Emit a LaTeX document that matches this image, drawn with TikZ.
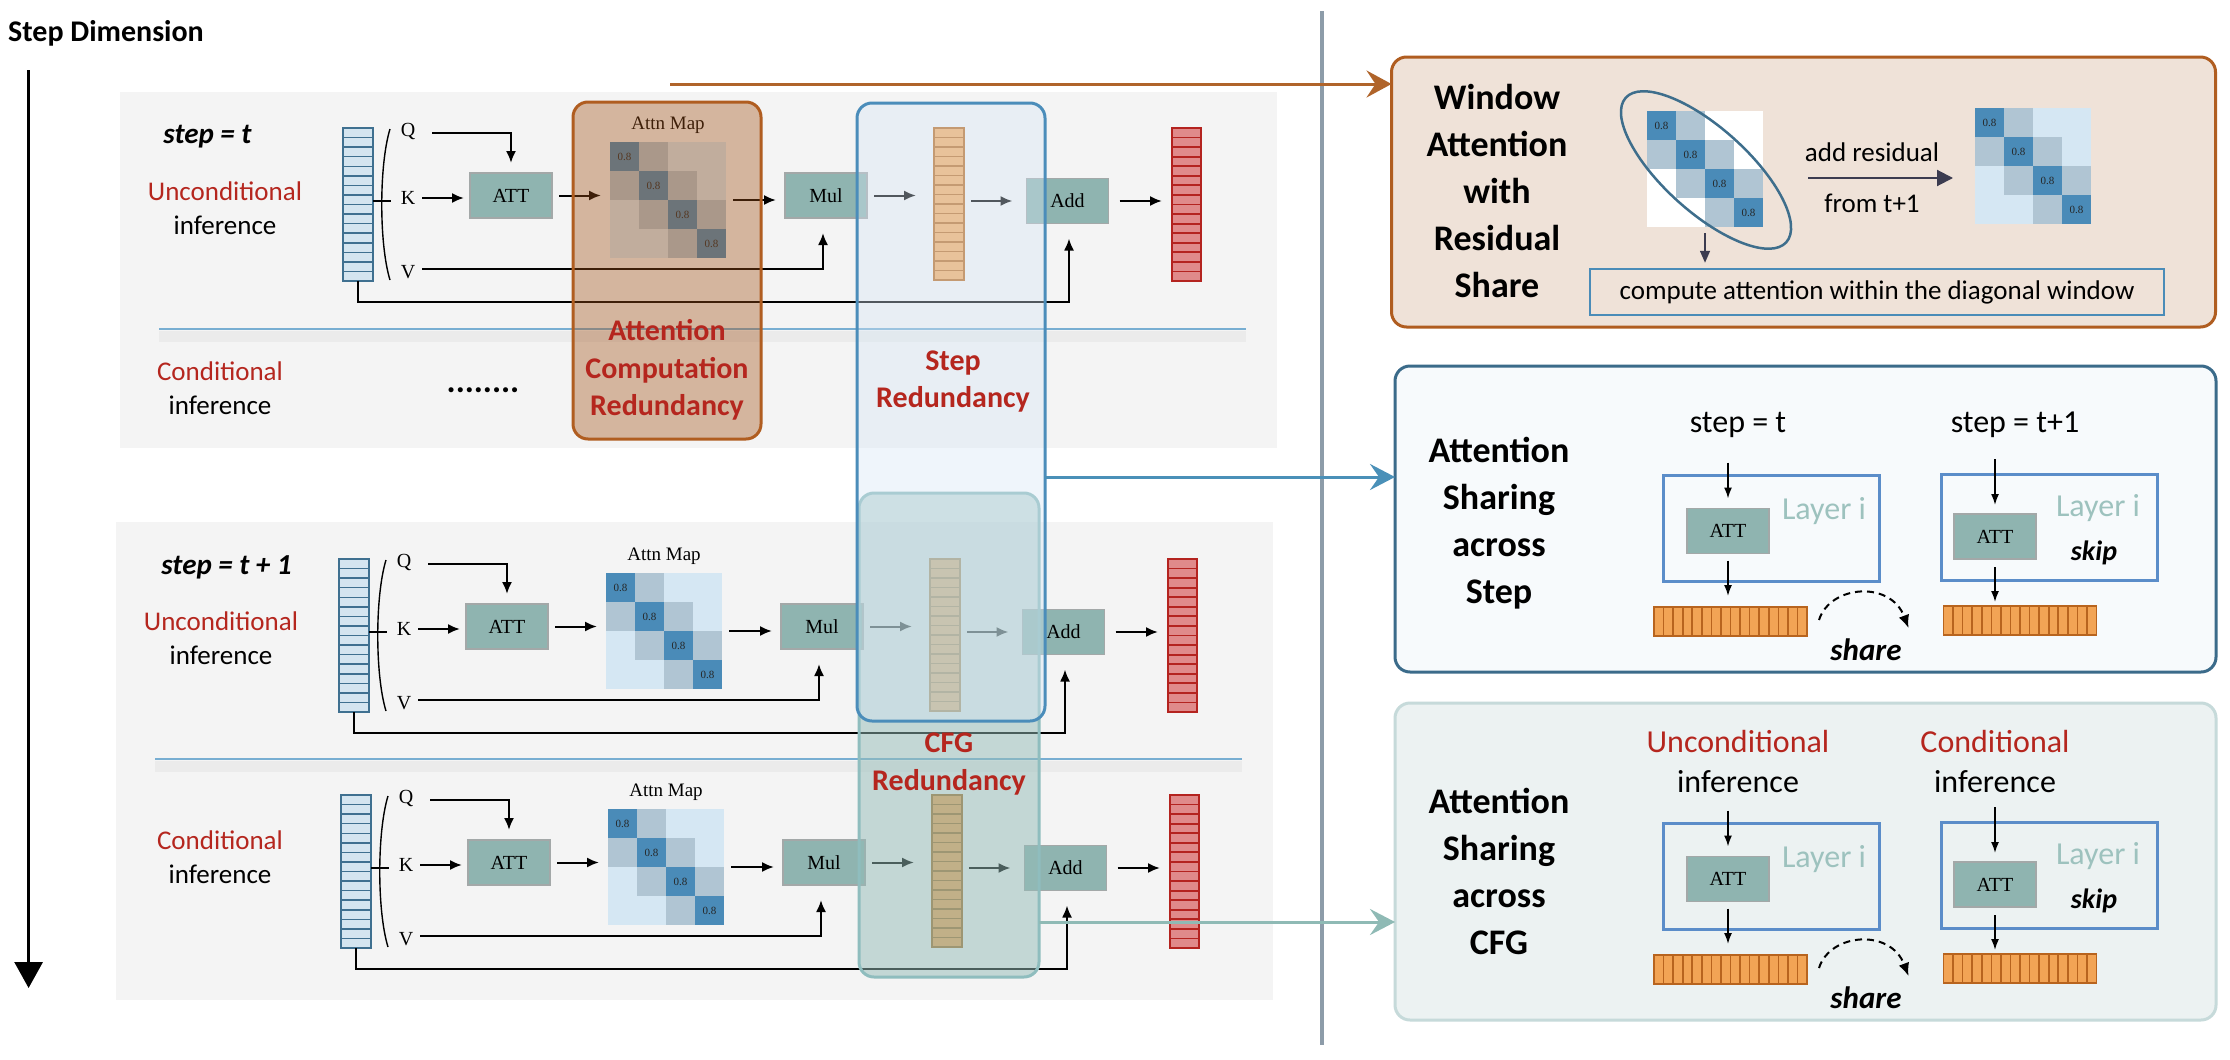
\documentclass[tikz,border=0pt]{standalone}
\usepackage{fontspec}
\setmainfont{Carlito}
\newfontfamily\tms{Liberation Serif}
\usetikzlibrary{arrows.meta,calc}
\definecolor{panelg}{HTML}{F4F4F4}
\definecolor{tokf}{HTML}{D4E5F0}
\definecolor{tokb}{HTML}{3F7090}
\definecolor{opf}{HTML}{8FB4B0}
\definecolor{opb}{HTML}{A3A8A8}
\definecolor{redf}{HTML}{E08A8A}
\definecolor{redb}{HTML}{B4231F}
\definecolor{peachf}{HTML}{E8C29A}
\definecolor{peachb}{HTML}{C49A72}
\definecolor{orgf}{HTML}{EFA458}
\definecolor{orgb}{HTML}{A8702E}
\definecolor{diagc}{HTML}{4A8BB8}
\definecolor{midc}{HTML}{B0C5D3}
\definecolor{farc}{HTML}{D5E7F3}
\definecolor{redt}{HTML}{B5261E}
\definecolor{orbord}{HTML}{B05D20}
\definecolor{orov}{HTML}{A25218}
\definecolor{blbord}{HTML}{4B8DBA}
\definecolor{blov}{HTML}{D5E6F5}
\definecolor{cfgbord}{HTML}{8FBDBE}
\definecolor{cfgov}{HTML}{94BCB8}
\definecolor{winf}{HTML}{EFE2D8}
\definecolor{stepf}{HTML}{F7FAFC}
\definecolor{stepb}{HTML}{3B6B8A}
\definecolor{cfgpf}{HTML}{ECF2F2}
\definecolor{cfgpb}{HTML}{C6DADA}
\definecolor{layb}{HTML}{5B8DC9}
\definecolor{layt}{HTML}{9DC2BE}
\definecolor{barf}{HTML}{F2A455}
\definecolor{barb}{HTML}{B8641E}
\definecolor{sepc}{HTML}{8D9CA9}
\definecolor{divc}{HTML}{78AED2}
\definecolor{ellc}{HTML}{3E6E8C}
\definecolor{cboxb}{HTML}{4A8CB8}
\definecolor{darkarr}{HTML}{3C3C50}
\definecolor{tealarr}{HTML}{8FBAB5}
\definecolor{bluearr}{HTML}{4A90B8}
\definecolor{orarr}{HTML}{B0642A}
\newcommand\fsz[2]{\fontsize{#1}{#2}\selectfont}
\newcommand\hstripes[3]{%
 \pgfmathtruncatemacro\nmone{#3-1}%
 \foreach \i in {1,...,\nmone}{%
  \draw[#2] ($(#1.north west)!\i/#3!(#1.south west)$) -- ($(#1.north east)!\i/#3!(#1.south east)$);}}
\newcommand\vstripes[3]{%
 \pgfmathtruncatemacro\nmone{#3-1}%
 \foreach \i in {1,...,\nmone}{%
  \draw[#2] ($(#1.north west)!\i/#3!(#1.north east)$) -- ($(#1.south west)!\i/#3!(#1.south east)$);}}
\newcommand\attnmat[4]{%
 \foreach \r in {0,...,3}{\foreach \c in {0,...,3}{%
  \pgfmathtruncatemacro\dd{abs(\r-\c)}%
  \ifnum\dd=0 \def\mcol{diagc}\else\ifnum\dd=1 \def\mcol{midc}\else\def\mcol{#4}\fi\fi
  \fill[\mcol] ({#2+\c*29},{#3+\r*29}) rectangle ++(29.3,29.3);
  \ifnum\dd=0 \node[numl] at ({#2+\c*29+14.5},{#3+\r*29+14.5}) {0.8};\fi}}%
 \node[inner sep=0,outer sep=0,minimum size=116pt] (#1) at ({#2+58},{#3+58}) {};}
\newcommand\attrow[4]{%
\begin{scope}[shift={#2}]
 \node[tokcol] (#1tok) at (358,204.5) {};
 \hstripes{#1tok}{tokline}{16}
 \draw[line width=1.4pt] (390,129) .. controls (379,165) and (379,244) .. (390,280);
 \draw[line width=2pt] (#1tok.east |- 0,201) -- (391,201);
 \node[qkv] (#1q) at (408,131) {Q};
 \node[qkv] (#1k) at (408,198) {K};
 \node[qkv] (#1v) at (408,272) {V};
 \node[opbox] (#1att) at (511,195.5) {ATT};
 \attnmat{#1mat}{610}{142}{farc}
 \node[mapl] at (668,125) {Attn Map};
 \node[opbox] (#1mul) at (826,195.5) {Mul};
 \node[colnode, fill=#3, draw=#4] (#1mid) at (949,204) {};
 \hstripes{#1mid}{draw=#4, line width=1.5pt}{16}
 \node[opbox] (#1add) at (1067.5,201) {Add};
 \node[redcol] (#1out) at (1186.5,204.5) {};
 \hstripes{#1out}{redline}{16}
 \draw[arr] ($(#1q.east)+(17,2)$) -| ([yshift=10pt]#1att.north);
 \draw[arr, shorten >=6pt] ($(#1k.east)+(7,0)$) -- (#1k.east -| #1att.west);
 \draw[arr] ($(#1v.east)+(7,-3)$) -| ($(#1mul.south)+(-3,15)$);
 \draw[arr] (#1tok.south) -- ++(0,21) -| ($(#1add.south)+(1.5,15)$);
 \draw[arr, shorten <=7pt, shorten >=9pt] (#1att.east) -- (#1att.east -| #1mat.west);
 \draw[arr, shorten <=7pt, shorten >=9pt] (#1mat.east) -- (#1mat.east -| #1mul.west);
 \draw[arr, shorten <=7pt, shorten >=18pt] (#1mul.east) -- (#1mul.east -| #1mid.west);
 \draw[arr, shorten <=7pt, shorten >=14pt] (#1mid.east |- #1add.west) -- (#1add.west);
 \draw[arr, shorten <=11pt, shorten >=10pt] (#1add.east) -- (#1add.east -| #1out.west);
\end{scope}}
\newcommand\sharepanel[2]{%
\begin{scope}[shift={#2}]
 \node[layerbox] (#1la) at (1771,528) {};
 \node[opbox] (#1atta) at (1728,531) {ATT};
 \node[layl] at (1824,511) {Layer i};
 \node[bar] (#1bara) at (1730.5,621.5) {};
 \vstripes{#1bara}{barline}{16}
 \node[layerbox] (#1lb) at (2049.5,527.5) {};
 \node[opbox] (#1attb) at (1995,536.5) {ATT};
 \node[layl] at (2098,508) {Layer i};
 \node[skipl] at (2094,553) {skip};
 \node[bar] (#1barb) at (2020,620.5) {};
 \vstripes{#1barb}{barline}{16}
 \draw[sarr] ($(#1atta.north)+(0,-46)$) -- ($(#1atta.north)+(0,-10)$);
 \draw[sarr] ($(#1atta.south)+(0,7)$) -- ($(#1atta.south |- #1bara.north)+(0,-11)$);
 \draw[sarr] ($(#1attb.north)+(0,-55)$) -- ($(#1attb.north)+(0,-9)$);
 \draw[sarr] ($(#1attb.south)+(0,8)$) -- ($(#1attb.south |- #1barb.north)+(0,-4)$);
 \draw[dasharr] ($(#1bara.east)+(12,-1.5)$) .. controls +(11,-35) and +(-18,-48) .. ($(#1barb.west)+(-35,7.5)$);
 \node[sharel] at (1866,650) {share};
\end{scope}}
\begin{document}
\begin{tikzpicture}[x=1pt,y=-1pt,
  arr/.style={line width=2pt, -{Latex[length=12pt,width=10pt]}},
  sarr/.style={line width=1.6pt, -{Latex[length=11pt,width=8pt]}},
  dasharr/.style={line width=2pt, dash pattern=on 7pt off 5pt, -{Latex[length=13pt,width=11pt]}},
  tokcol/.style={draw=tokb, fill=tokf, line width=1.5pt, minimum width=30pt, minimum height=153pt, inner sep=0pt, outer sep=0pt},
  tokline/.style={draw=tokb, line width=1.5pt},
  colnode/.style={line width=1.5pt, minimum width=30pt, minimum height=152pt, inner sep=0pt, outer sep=0pt},
  redcol/.style={draw=redb, fill=redf, line width=1.8pt, minimum width=29pt, minimum height=153pt, inner sep=0pt, outer sep=0pt},
  redline/.style={draw=redb, line width=1.8pt},
  opbox/.style={fill=opf, draw=opb, line width=1.2pt, minimum width=82pt, minimum height=45pt, inner sep=0pt, outer sep=0pt, font=\tms\fsz{20}{24}},
  qkv/.style={inner sep=0pt, font=\tms\fsz{20}{24}},
  mapl/.style={inner sep=0pt, font=\tms\fsz{19}{22}},
  numl/.style={inner sep=0pt, font=\tms\fsz{11}{12}, text=black!85},
  lab/.style={inner sep=0pt, font=\fsz{27}{32}},
  bigred/.style={inner sep=0pt, align=center, text=redt, font=\bfseries\fsz{30}{37.5}},
  title/.style={inner sep=0pt, align=center, font=\bfseries\fsz{36}{47}},
  rlab/.style={inner sep=0pt, font=\fsz{32}{38}},
  layerbox/.style={draw=layb, line width=3pt, minimum width=216pt, minimum height=106pt, inner sep=0pt, outer sep=0pt},
  layl/.style={inner sep=0pt, text=layt, font=\fsz{32}{36}},
  skipl/.style={inner sep=0pt, font=\bfseries\itshape\fsz{28}{32}},
  sharel/.style={inner sep=0pt, font=\bfseries\itshape\fsz{31}{34}},
  bar/.style={fill=barf, draw=barb, line width=1.6pt, minimum width=153pt, minimum height=29pt, inner sep=0pt, outer sep=0pt},
  barline/.style={draw=barb, line width=1.6pt},
  rpanel/.style={line width=3pt, rounded corners=15pt, inner sep=0pt, outer sep=0pt},
  hilite/.style={line width=3pt, rounded corners=15pt, inner sep=0pt, outer sep=0pt}
]
\useasboundingbox (0,0) rectangle (2230,1060);
\fill[white] (0,0) rectangle (2230,1060);

% ---------- left side ----------
\node[inner sep=0pt, anchor=west, font=\bfseries\fsz{30}{36}] (sdim) at (8,33) {Step Dimension};
\coordinate (sdtop) at (28.6,70);
\coordinate (sdbot) at (28.6,988);
\draw[line width=3pt, -{Triangle[length=26pt,width=28pt]}] (sdtop) -- (sdbot);

\node[fill=panelg, minimum width=1157pt, minimum height=356pt, inner sep=0pt] (p1) at (698.5,270) {};
\node[fill=panelg, minimum width=1157pt, minimum height=478pt, inner sep=0pt] (p2) at (694.5,761) {};
\fill[black, opacity=0.035] (159,331) rectangle (1246,342);
\draw[divc, line width=1.5pt] (159,329) -- (1246,329);
\fill[black, opacity=0.035] (155,761) rectangle (1242,772);
\draw[divc, line width=1.5pt] (155,759) -- (1242,759);

\attrow{a}{(0,0)}{peachf}{peachb}
\attrow{b}{(-4,431)}{orgf}{orgb}
\attrow{c}{(-2,667)}{orgf}{orgb}

\node[inner sep=0pt, font=\bfseries\itshape\fsz{29}{34}] at (207.5,137) {step = t};
\node[lab, text=redt] at (225,191) {Unconditional};
\node[lab] at (225,225) {inference};
\node[lab, text=redt] at (220,371) {Conditional};
\node[lab] at (220,405) {inference};
\node[inner sep=0pt, font=\bfseries\fsz{34}{34}] at (483,390) {........};
\node[inner sep=0pt, font=\bfseries\itshape\fsz{29}{34}] at (226.5,567) {step = t + 1};
\node[lab, text=redt] at (221,621) {Unconditional};
\node[lab] at (221,655) {inference};
\node[lab, text=redt] at (220,840) {Conditional};
\node[lab] at (220,874) {inference};

% highlight regions
\node[hilite, draw=cfgbord, fill=cfgov, fill opacity=0.5, minimum width=180pt, minimum height=484pt] (cfgred) at (949,735) {};
\node[hilite, draw=blbord, fill=blov, fill opacity=0.38, minimum width=188pt, minimum height=618pt] (stepred) at (951,412) {};
\node[hilite, draw=orbord, fill=orov, fill opacity=0.39, minimum width=188pt, minimum height=337pt] (attred) at (667,270.5) {};
\path[fill=peachf, draw=peachb, line width=1.5pt] (amid.north west) rectangle (amid.south east);
\hstripes{amid}{draw=peachb, line width=1.5pt}{16}

\node[bigred] at (667,370) {Attention\\Computation\\Redundancy};
\node[bigred] at (953,381.5) {Step\\Redundancy};
\node[bigred] at (949,764) {CFG\\Redundancy};

% separator
\draw[sepc, line width=4.5pt] (1322,11) -- (1322,1045);

% ---------- right side ----------
\node[rpanel, draw=orbord, fill=winf, minimum width=824pt, minimum height=270pt] (winbox) at (1803.5,192) {};
\node[rpanel, draw=stepb, fill=stepf, minimum width=821pt, minimum height=306pt] (steppanel) at (1805.5,519) {};
\node[rpanel, draw=cfgpb, fill=cfgpf, minimum width=821pt, minimum height=317pt] (cfgpanel) at (1805.5,861.5) {};

\node[title] at (1497,190.5) {Window\\Attention\\with\\Residual\\Share};
\node[title] at (1499,523) {Attention\\Sharing\\across\\Step};
\node[title] at (1499,871) {Attention\\Sharing\\across\\CFG};

% window attention content
\attnmat{wm1}{1647}{111}{white}
\draw[ellc, line width=2.5pt, rotate around={-42:(1706,170)}] (1706,170) ellipse [x radius=108pt, y radius=42pt];
\attnmat{wm2}{1975}{108}{farc}
\node[draw=cboxb, line width=2.5pt, minimum width=574pt, minimum height=46pt, inner sep=0pt, font=\fsz{27}{30}] (cbox) at (1877,292) {compute attention within the diagonal window};
\draw[darkarr, line width=1.6pt, -{Triangle[length=12pt,width=10pt]}, shorten <=6pt, shorten >=5pt] (wm1.south) -- (wm1.south |- cbox.north);
\node[inner sep=0pt, font=\fsz{27}{30}] at (1872,152) {add residual};
\node[inner sep=0pt, font=\fsz{27}{30}] at (1872,203) {from t+1};
\coordinate (ra) at (1808,178);
\draw[darkarr, line width=2pt, -{Triangle[length=16pt,width=16pt]}, shorten >=22pt] (ra) -- (ra -| wm2.west);

% sharing panels
\node[rlab] at (1738,425) {step = t};
\node[rlab] at (2015,425) {step = t+1};
\sharepanel{s}{(0,0)}
\node[rlab, text=redt] at (1738,741) {Unconditional};
\node[rlab] at (1738,782) {inference};
\node[rlab, text=redt] at (1995,741) {Conditional};
\node[rlab] at (1995,782) {inference};
\sharepanel{g}{(0,348)}

% connectors
\coordinate (ostart) at (670,84);
\draw[orarr, line width=3pt, -{Stealth[length=25pt,width=27pt,inset=9pt]}] (ostart) -- (ostart -| winbox.west);
\draw[bluearr, line width=3pt, -{Stealth[length=25pt,width=26pt,inset=9pt]}] (stepred.east |- 0,477) -- (steppanel.west |- 0,477);
\draw[tealarr, line width=3pt, -{Stealth[length=25pt,width=26pt,inset=9pt]}] (cfgred.east |- 0,922) -- (cfgpanel.west |- 0,922);
\end{tikzpicture}
\end{document}
